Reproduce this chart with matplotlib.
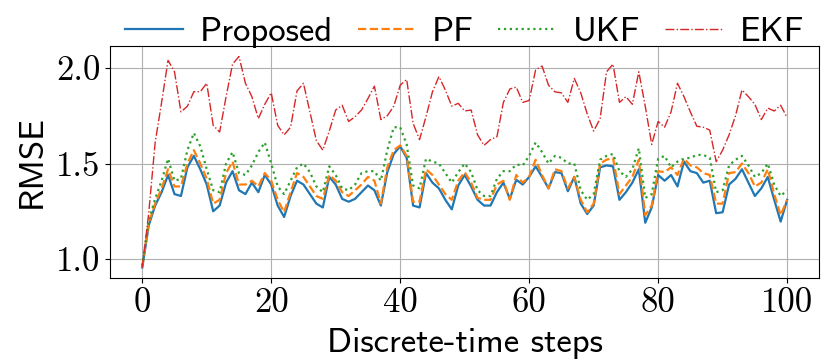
import numpy as np
import matplotlib
matplotlib.use("Agg")
import matplotlib.pyplot as plt

steps = list(range(101))

proposed = [0.956, 1.175, 1.28, 1.35, 1.44, 1.34, 1.33, 1.48, 1.54, 1.47,
            1.39, 1.25, 1.28, 1.40, 1.46, 1.36, 1.34, 1.40, 1.35, 1.44,
            1.39, 1.28, 1.22, 1.33, 1.41, 1.39, 1.34, 1.29, 1.27, 1.43,
            1.39, 1.315, 1.30, 1.315, 1.35, 1.385, 1.36, 1.28, 1.455, 1.55,
            1.59, 1.53, 1.28, 1.27, 1.45, 1.40, 1.37, 1.31, 1.26, 1.385,
            1.44, 1.38, 1.31, 1.28, 1.28, 1.35, 1.40, 1.315, 1.415, 1.39,
            1.43, 1.485, 1.43, 1.37, 1.455, 1.45, 1.355, 1.43, 1.29, 1.236,
            1.28, 1.48, 1.49, 1.485, 1.31, 1.35, 1.40, 1.47, 1.19, 1.27,
            1.44, 1.41, 1.44, 1.38, 1.51, 1.46, 1.45, 1.40, 1.41, 1.24,
            1.245, 1.39, 1.42, 1.47, 1.40, 1.33, 1.37, 1.43, 1.31, 1.196,
            1.31]

pf = [0.956, 1.19, 1.29, 1.37, 1.47, 1.38, 1.38, 1.50, 1.57, 1.50,
      1.42, 1.29, 1.31, 1.45, 1.51, 1.39, 1.39, 1.41, 1.38, 1.45,
      1.41, 1.31, 1.245, 1.35, 1.45, 1.43, 1.38, 1.33, 1.315, 1.44,
      1.41, 1.35, 1.33, 1.36, 1.39, 1.43, 1.41, 1.29, 1.48, 1.57,
      1.595, 1.54, 1.30, 1.30, 1.47, 1.44, 1.39, 1.34, 1.31, 1.41,
      1.455, 1.40, 1.32, 1.31, 1.31, 1.39, 1.41, 1.31, 1.44, 1.40,
      1.43, 1.52, 1.44, 1.37, 1.47, 1.46, 1.37, 1.43, 1.31, 1.245,
      1.29, 1.50, 1.52, 1.53, 1.34, 1.385, 1.43, 1.52, 1.23, 1.28,
      1.46, 1.455, 1.48, 1.44, 1.525, 1.49, 1.48, 1.45, 1.44, 1.29,
      1.29, 1.45, 1.455, 1.50, 1.45, 1.38, 1.40, 1.47, 1.34, 1.23,
      1.31]

ukf = [0.965, 1.20, 1.315, 1.41, 1.525, 1.41, 1.42, 1.57, 1.66, 1.59,
       1.47, 1.36, 1.35, 1.50, 1.56, 1.45, 1.44, 1.49, 1.56, 1.61,
       1.50, 1.38, 1.34, 1.41, 1.48, 1.50, 1.455, 1.38, 1.35, 1.485,
       1.44, 1.37, 1.36, 1.39, 1.45, 1.46, 1.46, 1.41, 1.57, 1.69,
       1.69, 1.60, 1.385, 1.37, 1.525, 1.51, 1.50, 1.45, 1.40, 1.455,
       1.50, 1.455, 1.36, 1.33, 1.33, 1.42, 1.46, 1.46, 1.495, 1.49,
       1.54, 1.61, 1.56, 1.50, 1.54, 1.53, 1.50, 1.50, 1.36, 1.31,
       1.34, 1.52, 1.54, 1.55, 1.46, 1.43, 1.47, 1.58, 1.32, 1.34,
       1.525, 1.54, 1.48, 1.51, 1.525, 1.53, 1.545, 1.545, 1.53, 1.35,
       1.36, 1.49, 1.52, 1.54, 1.49, 1.43, 1.45, 1.50, 1.39, 1.33,
       1.36]

ekf = [0.956, 1.24, 1.61, 1.82, 2.04, 1.98, 1.77, 1.80, 1.876, 1.876,
       1.92, 1.70, 1.665, 1.85, 2.02, 2.06, 1.92, 1.85, 1.735, 1.81,
       1.87, 1.70, 1.65, 1.69, 1.88, 1.92, 1.77, 1.62, 1.57, 1.67,
       1.78, 1.805, 1.72, 1.745, 1.78, 1.84, 1.905, 1.73, 1.75, 1.80,
       1.91, 1.94, 1.71, 1.625, 1.745, 1.875, 1.955, 1.885, 1.80, 1.815,
       1.775, 1.78, 1.65, 1.595, 1.625, 1.64, 1.82, 1.89, 1.90, 1.82,
       1.83, 1.99, 2.01, 1.91, 1.875, 1.87, 1.82, 1.945, 1.87, 1.76,
       1.67, 1.735, 1.98, 2.02, 1.82, 1.85, 1.81, 1.98, 1.80, 1.60,
       1.72, 1.69, 1.77, 1.92, 1.85, 1.77, 1.695, 1.69, 1.675, 1.51,
       1.57, 1.65, 1.75, 1.885, 1.85, 1.81, 1.73, 1.79, 1.775, 1.805,
       1.74]

xticks = [0, 20, 40, 60, 80, 100]
yticks = [1.0, 1.5, 2.0]

plt.rcParams['axes.unicode_minus'] = False
FS = 25

fig = plt.figure(figsize=(8.21, 3.62), dpi=100)
ax = fig.add_axes([0.134, 0.232, 0.864, 0.641])

ax.plot(steps, proposed, '-', color='#1f77b4', lw=1.6, label='Proposed')
ax.plot(steps, pf, '--', color='#ff7f0e', lw=1.6, label='PF')
ax.plot(steps, ukf, ':', color='#2ca02c', lw=1.6, label='UKF')
ax.plot(steps, ekf, '-.', color='#d62728', lw=1.0, label='EKF')

ax.set_xticks(xticks)
ax.set_xticklabels([str(t) for t in xticks], family='cmr10', fontsize=FS)
ax.set_yticks(yticks)
ax.set_yticklabels([f"{t:.1f}" for t in yticks], family='cmr10', fontsize=FS)
ax.grid(True, color='#b0b0b0', lw=0.8)
ax.set_axisbelow(True)
ax.set_xlabel('Discrete-time steps', family='cmss10', fontsize=FS, labelpad=6)
ax.set_ylabel('RMSE', family='cmss10', fontsize=FS, labelpad=6)

leg = ax.legend(loc='lower center', bbox_to_anchor=(0.5, 0.99), ncol=4,
                frameon=False, prop={'family': 'cmss10', 'size': FS},
                handlelength=1.65, handletextpad=0.5, columnspacing=0.7,
                borderpad=0.0, borderaxespad=0.0)

fig.savefig('out.png', dpi=100)
